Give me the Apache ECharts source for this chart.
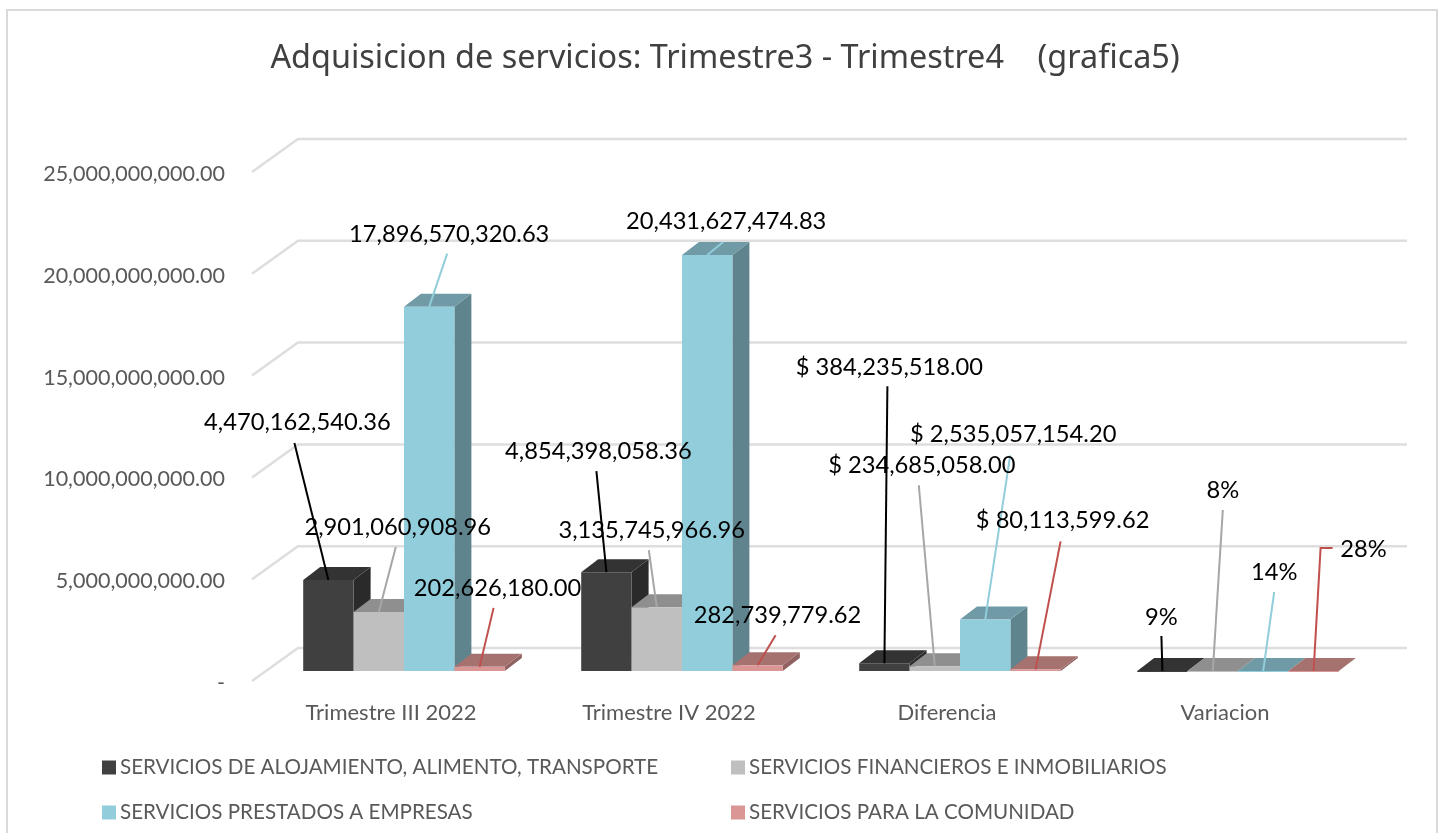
<!DOCTYPE html>
<html><head><meta charset="utf-8">
<style>html,body{margin:0;padding:0;background:#fff;overflow:hidden}#c{width:1445px;height:833px}</style>
<script src="https://cdn.jsdelivr.net/npm/echarts@6/dist/echarts.min.js"></script>
</head><body><div id="c"></div>
<script>
const categories = ['Trimestre III 2022', 'Trimestre IV 2022', 'Diferencia', 'Variacion'];
const seriesNames = ['SERVICIOS DE ALOJAMIENTO, ALIMENTO, TRANSPORTE', 'SERVICIOS FINANCIEROS E INMOBILIARIOS', 'SERVICIOS PRESTADOS A EMPRESAS', 'SERVICIOS PARA LA COMUNIDAD'];
const alojamiento = [4470162540.36, 4854398058.36, 384235518.00, 0.09];
const financieros = [2901060908.96, 3135745966.96, 234685058.00, 0.08];
const empresas = [17896570320.63, 20431627474.83, 2535057154.20, 0.14];
const comunidad = [202626180.00, 282739779.62, 80113599.62, 0.28];
const alojamientoLabels = ['4,470,162,540.36', '4,854,398,058.36', '$ 384,235,518.00', '9%'];
const financierosLabels = ['2,901,060,908.96', '3,135,745,966.96', '$ 234,685,058.00', '8%'];
const empresasLabels = ['17,896,570,320.63', '20,431,627,474.83', '$ 2,535,057,154.20', '14%'];
const comunidadLabels = ['202,626,180.00', '282,739,779.62', '$ 80,113,599.62', '28%'];
const yTicks = [0, 5e9, 10e9, 15e9, 20e9, 25e9];

// label layout: offset of label centre and leader end from the bar's front-top centre, by category then series
const labelLayout = [
  [[-31,-158,-34,-137],[19,-85,17,-65],[20,-72,18,-53],[18,-79,14,-59]],
  [[-8,-121,-10,-101],[-5,-77,-8,-57],[19,-34,16,-13],[20,-50,18,-30]],
  [[5,-296,3,-277],[-13,-201,-16,-181],[28,-185,25,-164],[27,-149,25,-128]],
  [[-1,-54,-1,-35],[10,-181,10,-161],[11,-99,11,-79],[50,-122,7,-123]]
];
const palette = [
  {front:'#404040', top:'#333333', side:'#2a2a2a', line:'#000000'},
  {front:'#bfbfbf', top:'#8f8f8f', side:'#7a7a7a', line:'#a6a6a6'},
  {front:'#92cddc', top:'#6f9aa6', side:'#5f848e', line:'#92cddc'},
  {front:'#d99694', top:'#a57270', side:'#8f6160', line:'#c0504d'}
];
const BAR_W = 50.4, DX = 17, DY = -13, FLOOR_X = 13, FLOOR_Y = -10, WALL_X = 46, WALL_Y = -33, WALL_TRIM = 3;
const labelFont = '23.7px Lato, sans-serif';

function poly(points, fill) {
  return {type:'polygon', shape:{points}, style:{fill, stroke:null}};
}
function barRenderer(si, labels) {
  return function (params, api) {
    const c = api.value(0), v = api.value(1);
    const p0 = api.coord([c, 0]), p1 = api.coord([c, v]);
    const xl = p0[0] + FLOOR_X + (si - 2) * BAR_W, xr = xl + BAR_W;
    const yb = p0[1] + FLOOR_Y, yt = p1[1] + FLOOR_Y;
    const col = palette[si];
    const children = [
      poly([[xr,yb],[xr+DX,yb+DY],[xr+DX,yt+DY],[xr,yt]], col.side),
      poly([[xl,yt],[xl+DX,yt+DY],[xr+DX,yt+DY],[xr,yt]], col.top),
      {type:'rect', shape:{x:xl, y:yt, width:BAR_W, height:Math.max(yb-yt,1)}, style:{fill:col.front}}
    ];
    const ax = (xl + xr) / 2, L = labelLayout[c][si];
    const pts = [[ax, yt], [ax + L[2], yt + L[3]]];
    if (c === 3 && si === 3) pts.push([ax + 19, yt + L[3]]);
    children.push({type:'polyline', z2:50, shape:{points:pts}, style:{fill:null, stroke:col.line, lineWidth:2}});
    children.push({type:'text', z2:60, x:ax + L[0], y:yt + L[1],
      style:{text:labels[c], font:labelFont, fill:'#000', align:'center', verticalAlign:'middle'}});
    return {type:'group', children};
  };
}
function wallRenderer(params, api) {
  const v = api.value(0);
  const y = api.coord([0, v])[1], g = params.coordSys;
  const x0 = g.x, xb = g.x + WALL_X, xe = g.x + g.width + WALL_X - WALL_TRIM;
  return {type:'polyline', shape:{points:[[x0,y],[xb,y+WALL_Y],[xe,y+WALL_Y]]},
    style:{fill:null, stroke:'#dedede', lineWidth:2.5}};
}
const valueSets = [alojamiento, financieros, empresas, comunidad];
const labelSets = [alojamientoLabels, financierosLabels, empresasLabels, comunidadLabels];
const legendSlots = [[97,752],[726,752],[97,797],[726,797]];

const option = {
  animation:false, backgroundColor:'#fff',
  graphic:[{type:'rect', z:-10, shape:{x:7,y:10,width:1430,height:840}, style:{fill:'#fff',stroke:'#d9d9d9',lineWidth:2}}],
  title:{text:'Adquisicion de servicios: Trimestre3 - Trimestre4    (grafica5)', left:720, top:38, textAlign:'center',
    textStyle:{fontFamily:'Noto Sans', fontSize:32.4, fontWeight:'normal', color:'#404040'}},
  legend:seriesNames.map((n,i)=>({data:[n], left:legendSlots[i][0], top:legendSlots[i][1], itemWidth:14, itemHeight:14, icon:'rect', selectedMode:false,
      textStyle:{fontFamily:'Lato', fontSize:20.6, color:'#595959', padding:[0,0,0,-1]}})),
  grid:{left:252, top:172, width:1112, height:509, containLabel:false},
  xAxis:{type:'category', data:categories, axisLine:{show:false}, axisTick:{show:false}, splitLine:{show:false},
    axisLabel:{margin:21, fontFamily:'Lato', fontSize:22, color:'#595959'}},
  yAxis:{type:'value', min:0, max:25e9, interval:5e9, axisLine:{show:false}, axisTick:{show:false}, splitLine:{show:false},
    axisLabel:{margin:27, fontFamily:'Lato', fontSize:21.5, color:'#595959', verticalAlign:'top', lineHeight:4,
      formatter:v => v === 0 ? '-' : v.toLocaleString('en-US',{minimumFractionDigits:2, maximumFractionDigits:2})}},
  series:[
    {type:'custom', name:'walls', silent:true, z:1, renderItem:wallRenderer, data:yTicks.map(v=>[v]), encode:{y:0}},
    ...valueSets.map((vals,si)=>({
      type:'custom', name:seriesNames[si], z:2, silent:true,
      itemStyle:{color:palette[si].front},
      renderItem:barRenderer(si, labelSets[si]),
      data:vals.map((v,i)=>[i,v]), encode:{x:0,y:1}
    }))
  ]
};
echarts.init(document.getElementById('c')).setOption(option);
</script></body></html>
